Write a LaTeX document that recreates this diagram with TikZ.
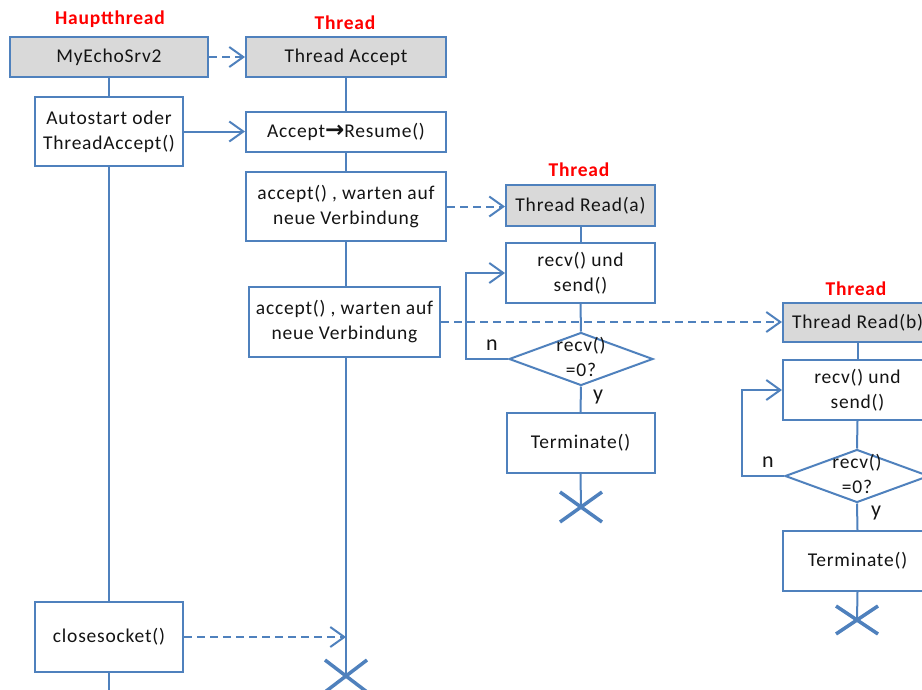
\documentclass[tikz,border=0pt]{standalone}
\usepackage{fontspec}
\setmainfont[LetterSpace=4]{Carlito}
\newfontfamily\arrowfont{DejaVu Sans}
\usetikzlibrary{arrows.meta,shapes.geometric}
\definecolor{lblue}{RGB}{79,129,189}
\definecolor{boxgray}{RGB}{217,217,217}
\definecolor{txt}{RGB}{20,20,20}
\begin{document}
\begin{tikzpicture}[x=1pt,y=-1pt,
  font=\fontsize{19.5}{25}\selectfont,
  conn/.style={draw=lblue,line width=2pt},
  arr/.style={conn,-{Straight Barb[length=14pt,width=20pt]}},
  darr/.style={arr,dash pattern=on 8pt off 5pt},
  box/.style={draw=lblue,line width=2pt,fill=white,text=txt,align=center,inner sep=0pt},
  headbox/.style={box,fill=boxgray},
  dec/.style={diamond,draw=lblue,line width=2pt,inner sep=0pt,fill=white,minimum width=144pt,minimum height=53pt},
  head/.style={text=red,font=\fontsize{19.5}{25}\selectfont\bfseries},
  yn/.style={text=txt,font=\fontsize{22}{26}\selectfont},
  xmark/.style={draw=lblue,line width=3.5pt}
]
\useasboundingbox (0,0) rectangle (922,689);
\clip (0,0) rectangle (922,689);

% labels
\node[head] (h1) at (110,19) {Hauptthread};
\node[head] (h2) at (345,23) {Thread};
\node[head] (h3) at (579,170) {Thread};
\node[head] (h4) at (856,289) {Thread};

% main thread
\node[headbox,minimum width=198pt,minimum height=40pt] (my) at (109,57) {MyEchoSrv2};
\node[box,minimum width=148pt,minimum height=69pt] (auto) at (109,131.5) {Autostart oder\\ThreadAccept()};
\node[box,minimum width=148pt,minimum height=70pt] (close) at (109,637) {closesocket()};

% thread accept
\node[headbox,minimum width=200pt,minimum height=40pt] (ta) at (346,57) {Thread Accept};
\node[box,minimum width=200pt,minimum height=40pt] (ar) at (346,132) {Accept{\arrowfont\bfseries\fontsize{23}{25}\selectfont →}Resume()};
\node[box,minimum width=200pt,minimum height=69pt] (acc1) at (346,206.5) {accept() , warten auf\\neue Verbindung};
\node[box,minimum width=191pt,minimum height=70pt] (acc2) at (344.5,322) {accept() , warten auf\\neue Verbindung};
\coordinate (xt) at (346,676);

% thread read a
\node[headbox,minimum width=149pt,minimum height=41pt] (tra) at (580.5,205.5) {Thread Read(a)};
\node[box,minimum width=149pt,minimum height=60pt] (rsa) at (580.5,273) {recv() und\\send()};
\node[dec] (da) at (581,359) {};
\node[text=txt,align=center] (dat) at (581,357) {recv()\\=0?};
\node[box,minimum width=148pt,minimum height=60pt] (tea) at (580.5,443) {Terminate()};
\coordinate (xa) at (581,507);
\node[yn] (na) at (492,345) {n};
\node[yn] (ya) at (598,397) {y};

% thread read b
\node[headbox,minimum width=149pt,minimum height=39pt] (trb) at (857.5,322.5) {Thread Read(b)};
\node[box,minimum width=149pt,minimum height=60pt] (rsb) at (857.5,390) {recv() und\\send()};
\node[dec] (db) at (857,476) {};
\node[text=txt,align=center] (dbt) at (857,474) {recv()\\=0?};
\node[box,minimum width=149pt,minimum height=60pt] (teb) at (857.5,561) {Terminate()};
\coordinate (xb) at (857,620);
\node[yn] (nb) at (768,462) {n};
\node[yn] (yb) at (876,513) {y};

% main thread lifeline
\draw[conn] (my.south) -- (auto.north);
\draw[conn] (auto.south) -- (close.north);
\draw[conn] (close.south) -- ++(0,30);
\draw[darr] (my.east) -- (ta.west);
\draw[arr] (auto.east) -- (auto.east -| ar.west);
\draw[darr] (close.east) -- (close.east -| xt);

% thread accept lifeline
\draw[conn] (ta.south) -- (ar.north);
\draw[conn] (ar.south) -- (acc1.north);
\draw[conn] (acc1.south) -- (acc1.south |- acc2.north);
\draw[conn] (acc2.south -| xt) -- (xt);
\draw[xmark] (xt) +(-21,-16) -- +(21,16);
\draw[xmark] (xt) +(-21,16) -- +(21,-16);
\draw[darr] (acc1.east) -- (acc1.east -| tra.west);
\draw[darr] (acc2.east) -- (acc2.east -| trb.west);

% thread a
\draw[conn] (tra.south) -- (rsa.north);
\draw[conn] (rsa.south) -- (da.north);
\draw[conn] (da.south) -- (tea.north);
\draw[conn] (tea.south) -- (xa);
\draw[arr] (da.west) -- ++(-42,0) |- (rsa.west);
\draw[xmark] (xa) +(-21,-15) -- +(21,15);
\draw[xmark] (xa) +(-21,15) -- +(21,-15);

% thread b
\draw[conn] (trb.south) -- (rsb.north);
\draw[conn] (rsb.south) -- (db.north);
\draw[conn] (db.south) -- (teb.north);
\draw[conn] (teb.south) -- (xb);
\draw[arr] (db.west) -- ++(-42,0) |- (rsb.west);
\draw[xmark] (xb) +(-21,-14) -- +(21,14);
\draw[xmark] (xb) +(-21,14) -- +(21,-14);
\end{tikzpicture}
\end{document}
